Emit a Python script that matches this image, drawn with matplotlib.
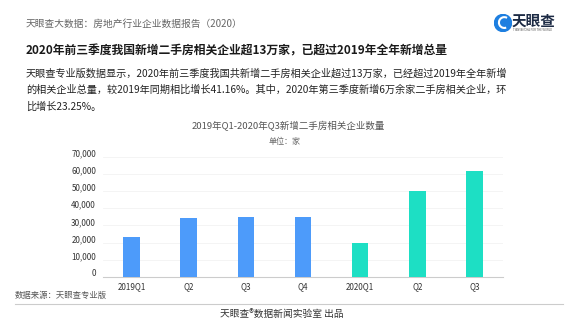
import matplotlib
matplotlib.use("Agg")
import matplotlib.pyplot as plt
import matplotlib.transforms as mtransforms
from matplotlib.patches import Circle, Arc

plt.rcParams['font.family'] = ['Noto Sans CJK SC', 'DejaVu Sans']

# quarterly data
quarters = ['2019Q1', 'Q2', 'Q3', 'Q4', '2020Q1', 'Q2', 'Q3']
new_firms = [23100, 34600, 35200, 34800, 19800, 50000, 61700]
bar_colors = ['#4d9bfa'] * 4 + ['#1ddfc4'] * 3
yticks = [0, 10000, 20000, 30000, 40000, 50000, 60000, 70000]

W, H = 580, 326


def fx(x):
    return x / W


def fy(y):
    return 1 - y / H


fig = plt.figure(figsize=(W / 100, H / 100), dpi=100)
fig.patch.set_facecolor('white')

# header texts
fig.text(fx(26), fy(24), '天眼查大数据：房地产行业企业数据报告（2020）', fontsize=7.0,
         color='#666666', va='center', ha='left')
fig.text(fx(26), fy(51), '2020年前三季度我国新增二手房相关企业超13万家，已超过2019年全年新增总量',
         fontsize=8.5, fontweight='bold', color='#1a1a1a', va='center', ha='left')
body = ['天眼查专业版数据显示，2020年前三季度我国共新增二手房相关企业超过13万家，已经超过2019年全年新增',
        '的相关企业总量，较2019年同期相比增长41.16%。其中，2020年第三季度新增6万余家二手房相关企业，环',
        '比增长23.25%。']
for i, line in enumerate(body):
    fig.text(fx(26), fy(73.5 + i * 16.7), line, fontsize=7.3, color='#222222',
             va='center', ha='left')

# logo
ax_logo = fig.add_axes([fx(494), fy(32), fx(18), 18 / H])
ax_logo.set_xlim(-1, 1)
ax_logo.set_ylim(-1, 1)
ax_logo.set_aspect('equal')
ax_logo.axis('off')
ax_logo.add_patch(Circle((0, 0), 0.95, color='#1e7fe0'))
ax_logo.add_patch(Arc((0.15, 0.05), 1.2, 1.2, theta1=60, theta2=290, color='white', lw=1.5))
fig.text(fx(512), fy(21), '天眼查', fontsize=10.5, fontweight='bold', color='#1c2a44',
         va='center', ha='left')
fig.text(fx(513), fy(30), 'TIANYANCHA FOR THE WORLD', fontsize=2, color='#555555',
         va='center', ha='left')

# chart title
fig.text(fx(288), fy(125.7), '2019年Q1-2020年Q3新增二手房相关企业数量', fontsize=6.8,
         color='#555555', va='center', ha='center')
fig.text(fx(285), fy(141.7), '单位：家', fontsize=5.8, color='#666666', va='center', ha='center')

ax = fig.add_axes([fx(103), fy(276.7), fx(400), (276.7 - 157) / H])
x = range(len(quarters))
ax.bar(x, new_firms, width=0.29, color=bar_colors, zorder=3)
ax.set_xlim(-0.5, len(quarters) - 0.5)
ax.set_ylim(0, 70000)
ax.set_yticks(yticks)
ax.set_yticklabels([f'{v:,}' for v in yticks])
ax.set_xticks(list(x))
ax.set_xticklabels(quarters)
ax.tick_params(axis='both', length=0, labelsize=5.8, colors='#333333')
ax.tick_params(axis='y', pad=5)
ax.tick_params(axis='x', pad=4)
ax.grid(axis='y', color='#f3f3f3', lw=0.6, zorder=0)
for side in ['top', 'right', 'left']:
    ax.spines[side].set_visible(False)
ax.spines['bottom'].set_color('#cccccc')
ax.spines['bottom'].set_linewidth(0.8)
shift = mtransforms.ScaledTranslation(0, 0.04, fig.dpi_scale_trans)
for lab in ax.get_yticklabels():
    lab.set_transform(lab.get_transform() + shift)

# footer
fig.text(fx(15), fy(295), '数据来源：天眼查专业版', fontsize=6, color='#555555',
         va='center', ha='left')
fig.add_artist(plt.Line2D([fx(15), fx(563)], [fy(303.5), fy(303.5)], color='#cccccc',
                          lw=0.8, transform=fig.transFigure))
fig.text(fx(282), fy(314.5), '天眼查®数据新闻实验室 出品', fontsize=7, color='#333333',
         va='center', ha='center')

fig.savefig('out.png', dpi=100, facecolor='white')
